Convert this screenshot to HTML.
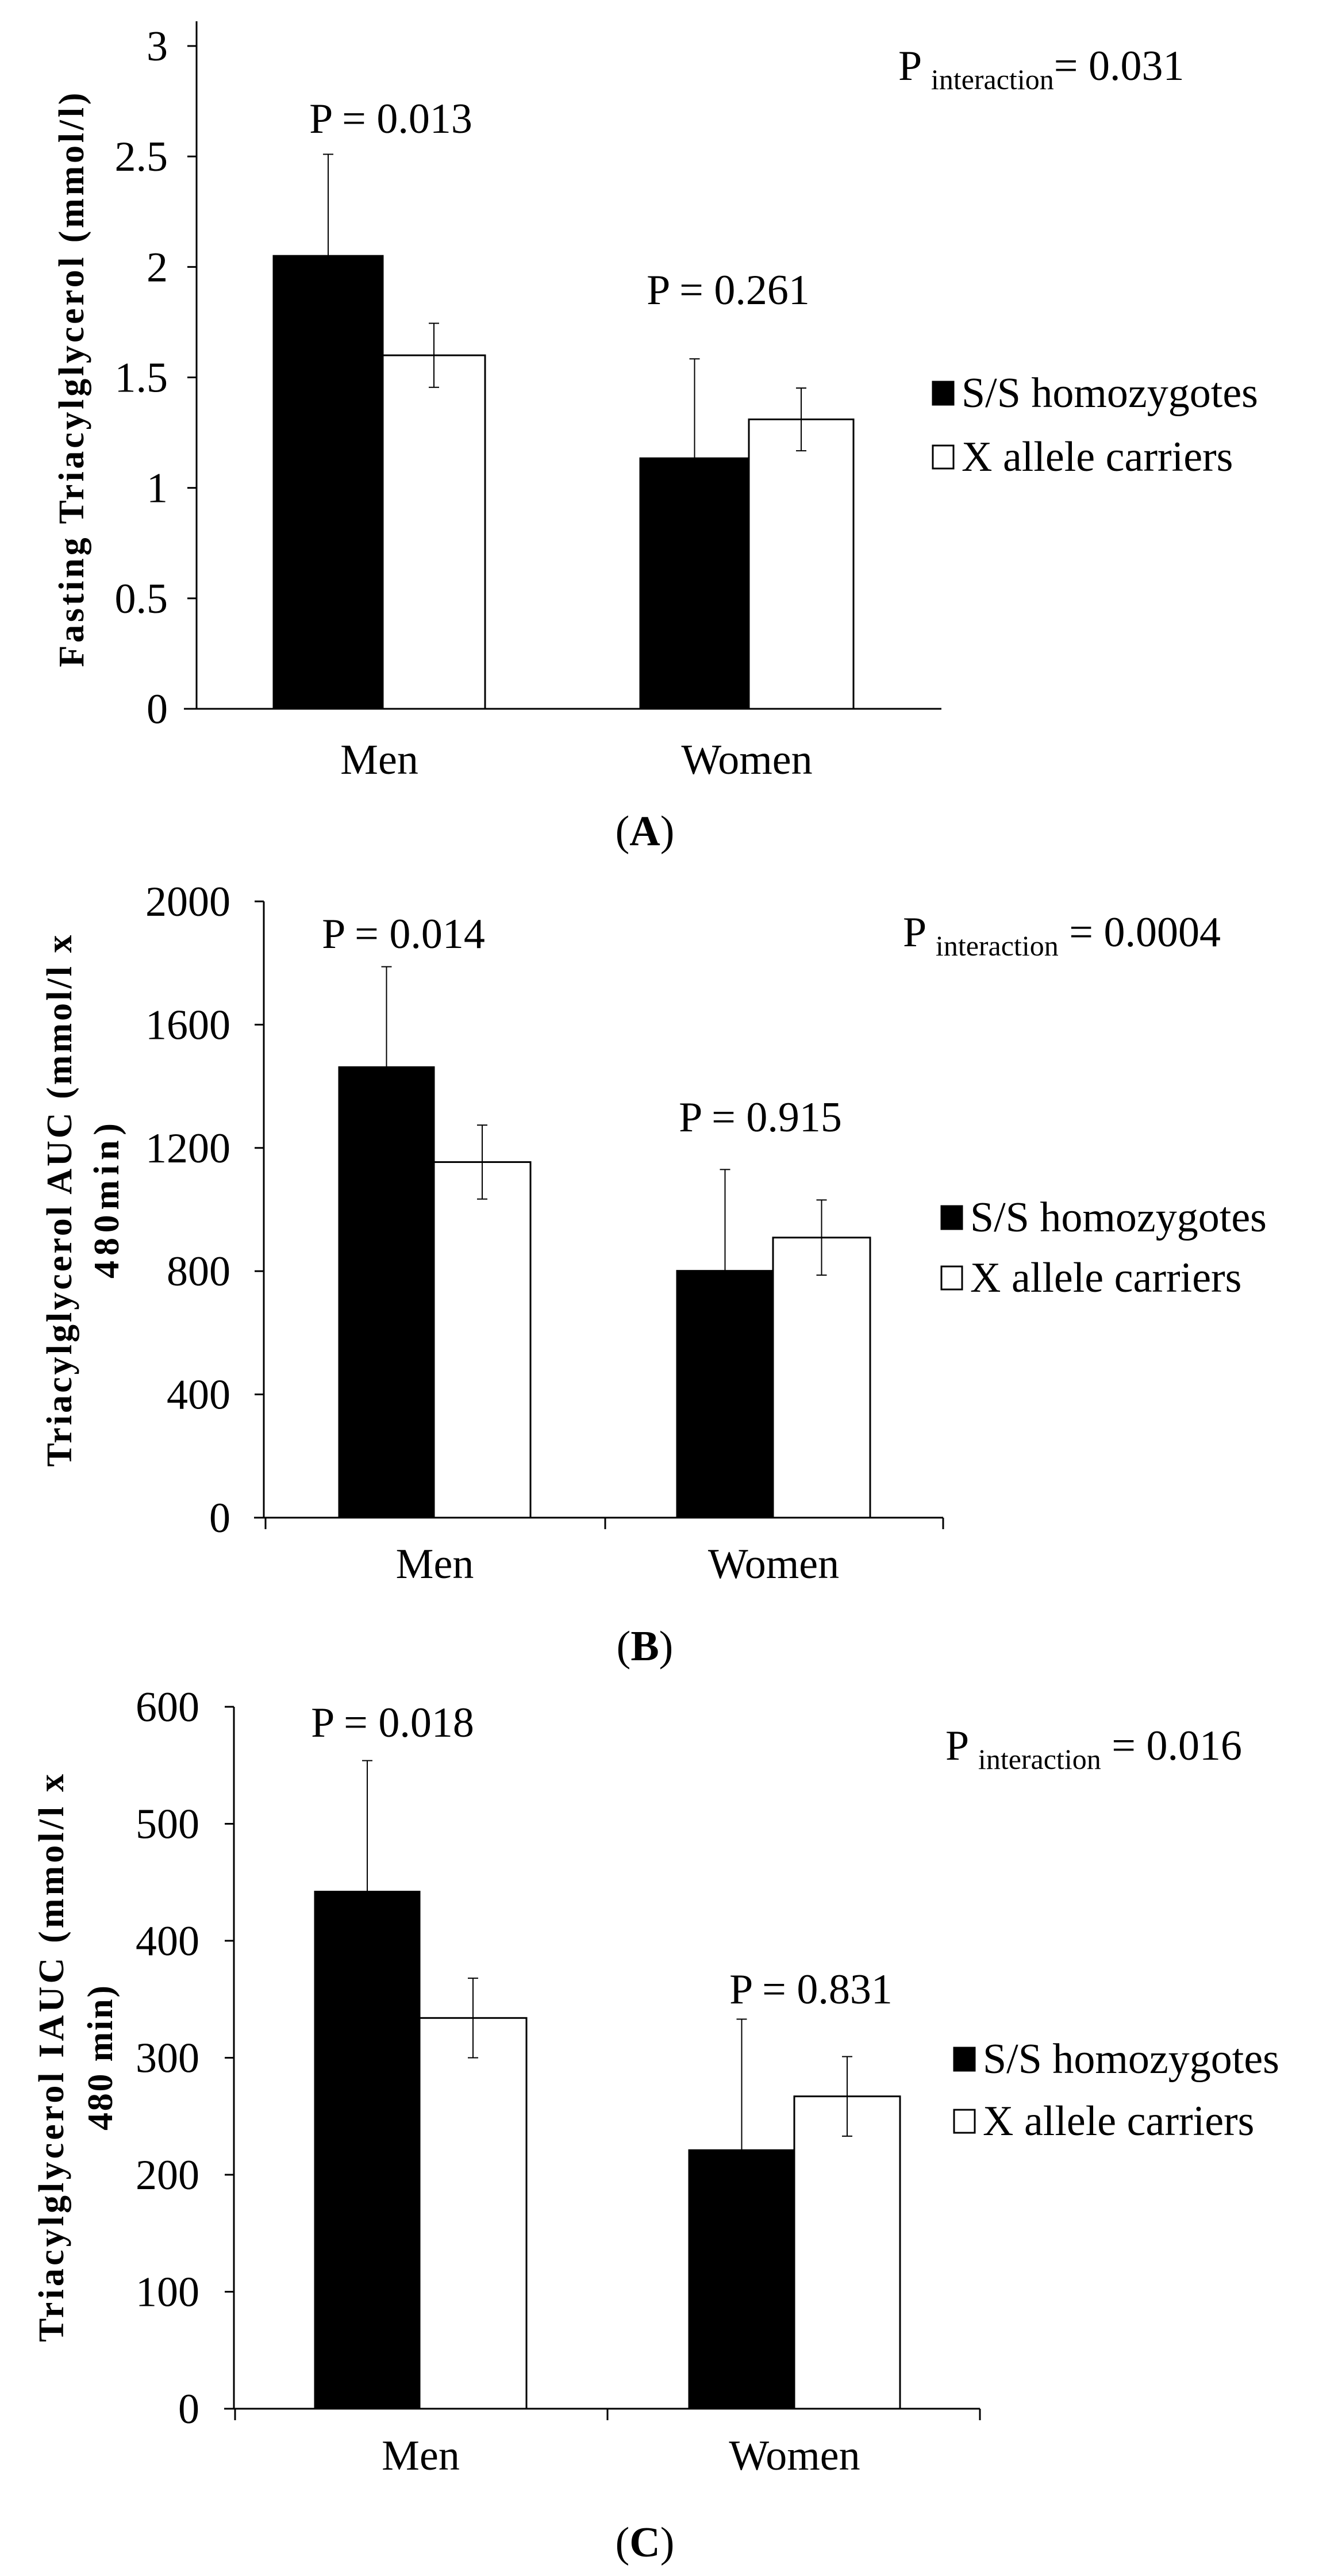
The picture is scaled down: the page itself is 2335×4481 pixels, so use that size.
<!DOCTYPE html>
<html><head><meta charset="utf-8"><style>
html,body{margin:0;padding:0;background:#fff;}
svg{display:block;}
text{font-family:"Liberation Serif",serif;fill:#000;}
</style></head><body>
<svg id="fig" width="2335" height="4481" viewBox="0 0 2335 4481" xmlns="http://www.w3.org/2000/svg"></svg>
<script>
// ---- data ----
const categories = ["Men", "Women"];
const seriesNames = ["S/S homozygotes", "X allele carriers"];
// Panel A: fasting triacylglycerol
const aSS = [2.05, 1.134];
const aX = [1.60, 1.31];
const aSSerr = [0.46, 0.45];
const aXerr = [0.145, 0.142];
const aTicks = ["0", "0.5", "1", "1.5", "2", "2.5", "3"];
const aPvals = ["P = 0.013", "P = 0.261"];
// Panel B: AUC
const bSS = [1462, 801];
const bX = [1154, 909];
const bSSerr = [326, 329];
const bXerr = [120, 122];
const bTicks = ["0", "400", "800", "1200", "1600", "2000"];
const bPvals = ["P = 0.014", "P = 0.915"];
// Panel C: IAUC
const cSS = [442, 221];
const cX = [334, 267];
const cSSerr = [112, 112];
const cXerr = [34, 34];
const cTicks = ["0", "100", "200", "300", "400", "500", "600"];
const cPvals = ["P = 0.018", "P = 0.831"];

const NS = "http://www.w3.org/2000/svg";
const svg = document.getElementById("fig");
function mk(tag, attrs, parent) {
  const e = document.createElementNS(NS, tag);
  for (const k in attrs) e.setAttribute(k, attrs[k]);
  (parent || svg).appendChild(e);
  return e;
}

function panel(cfg) {
  const g = mk("g", {});
  
  
  const maxV = parseFloat(cfg.ticks[cfg.ticks.length - 1]);
  const y = v => cfg.y0 - (v / maxV) * (cfg.y0 - cfg.yTop);
  // bars
  for (let i = 0; i < categories.length; i++) {
    const bx = cfg.barX[i];
    const vals = [cfg.ss[i], cfg.x[i]];
    const errs = [cfg.sserr[i], cfg.xerr[i]];
    for (let s = 0; s < 2; s++) {
      const x0 = bx[s], x1 = bx[s + 1];
      const r = mk("rect", {x: x0, y: y(vals[s]), width: x1 - x0, height: cfg.y0 - y(vals[s]),
        fill: s === 0 ? "#000" : "#fff", stroke: "#000", "stroke-width": 3}, g);
      
      
      const cx = (x0 + x1) / 2;
      const eg = mk("g", {stroke: "#000", "stroke-width": 2}, g);
      
      
      mk("line", {x1: cx, x2: cx, y1: y(vals[s] + errs[s]), y2: y(vals[s] - errs[s])}, eg);
      mk("line", {x1: cx - 9, x2: cx + 9, y1: y(vals[s] + errs[s]), y2: y(vals[s] + errs[s])}, eg);
      mk("line", {x1: cx - 9, x2: cx + 9, y1: y(vals[s] - errs[s]), y2: y(vals[s] - errs[s])}, eg);
    }
    const cl = mk("text", {x: (bx[0] + bx[2]) / 2, y: cfg.catY, "text-anchor": "middle", "font-size": 74}, g);
    cl.textContent = categories[i];
    
    
    const pv = mk("text", {x: cfg.pX[i], y: cfg.pY[i], "text-anchor": "middle", "font-size": 74}, g);
    pv.textContent = cfg.pvals[i];
    
    
  }
  // axes
  const ax = mk("g", {stroke: "#000", "stroke-width": 3}, g);
  
  
  mk("line", {x1: cfg.axX, x2: cfg.axX, y1: cfg.axTop, y2: cfg.y0}, ax);
  mk("line", {x1: cfg.xL, x2: cfg.xR, y1: cfg.y0, y2: cfg.y0}, ax);
  if (cfg.xTicks) cfg.xTicks.forEach(t => mk("line", {x1: t, x2: t, y1: cfg.y0, y2: cfg.y0 + 20}, ax));
  cfg.ticks.forEach(t => {
    const v = parseFloat(t);
    mk("line", {x1: cfg.axX - 16, x2: cfg.axX, y1: y(v), y2: y(v)}, ax);
    const tl = mk("text", {x: cfg.tickX, y: y(v) + 25, "text-anchor": "end", "font-size": 74}, g);
    tl.textContent = t;
    
    
  });
  // y label
  const yl = mk("text", {transform: `translate(${cfg.ylX},${cfg.ylY}) rotate(-90)`, "text-anchor": "middle",
    "font-size": 62, "font-weight": "bold"}, g);
  
  
  cfg.ylLines.forEach((ln, k) => {
    const ts = mk("tspan", {x: 0, dy: k === 0 ? 0 : cfg.ylDy, textLength: cfg.ylLen[k], lengthAdjust: "spacing"}, yl);
    ts.textContent = ln;
  });
  // P interaction
  const pi = mk("text", {x: cfg.piX, y: cfg.piY, "font-size": 74}, g);
  
  
  const t1 = mk("tspan", {}, pi); t1.textContent = "P ";
  const t2 = mk("tspan", {"font-size": 50, dy: 16}, pi); t2.textContent = "interaction";
  const t3 = mk("tspan", {dy: -16}, pi); t3.textContent = cfg.piText;
  // legend
  const lg = mk("g", {}, g);
  
  
  seriesNames.forEach((n, s) => {
    const ly = cfg.legY[s];
    const sq = mk("rect", {x: cfg.legX + 2, y: ly - 44, width: 36, height: 40, fill: s === 0 ? "#000" : "#fff", stroke: "#000", "stroke-width": 3}, lg);
    
    
    const lt = mk("text", {x: cfg.legX + 52, y: ly, "font-size": 74}, lg);
    lt.textContent = n;
    
    
  });
  // panel letter
  const pl = mk("text", {x: 1122, y: cfg.letterY, "text-anchor": "middle", "font-size": 74}, g);
  
  
  const a = mk("tspan", {}, pl); a.textContent = "(";
  const b = mk("tspan", {"font-weight": "bold"}, pl); b.textContent = cfg.letter;
  const c = mk("tspan", {}, pl); c.textContent = ")";
}

panel({name: "panel-a", ss: aSS, x: aX, sserr: aSSerr, xerr: aXerr, ticks: aTicks, pvals: aPvals,
  y0: 1233, yTop: 80, axX: 342, axTop: 37, xL: 320, xR: 1638, xTicks: null, tickX: 292,
  barX: [[476, 666, 844], [1114, 1303, 1485]], catY: 1346, pX: [680, 1267], pY: [231, 529],
  ylX: 145, ylY: 661, ylLines: ["Fasting  Triacylglycerol  (mmol/l)"], ylLen: [999], ylDy: 0,
  piX: 1563, piY: 139, piText: "= 0.031", legX: 1621, legY: [708, 819], letter: "A", letterY: 1470});

panel({name: "panel-b", ss: bSS, x: bX, sserr: bSSerr, xerr: bXerr, ticks: bTicks, pvals: bPvals,
  y0: 2640, yTop: 1568, axX: 459, axTop: 1568, xL: 442, xR: 1641, xTicks: [462, 1053, 1641], tickX: 401,
  barX: [[590, 755, 923], [1178, 1345, 1514]], catY: 2745, pX: [702, 1323], pY: [1649, 1968],
  ylX: 124, ylY: 2089, ylLines: ["Triacylglycerol AUC (mmol/l  x", "480min)"], ylLen: [925, 270], ylDy: 82,
  piX: 1571, piY: 1646, piText: " = 0.0004", legX: 1636, legY: [2142, 2247], letter: "B", letterY: 2888});

panel({name: "panel-c", ss: cSS, x: cX, sserr: cSSerr, xerr: cXerr, ticks: cTicks, pvals: cPvals,
  y0: 4190, yTop: 2969, axX: 407, axTop: 2969, xL: 390, xR: 1705, xTicks: [409, 1057, 1705], tickX: 347,
  barX: [[548, 730, 916], [1199, 1382, 1566]], catY: 4296, pX: [683, 1411], pY: [3021, 3485],
  ylX: 110, ylY: 3580, ylLines: ["Triacylglycerol  IAUC (mmol/l  x", "480 min)"], ylLen: [988, 252], ylDy: 85,
  piX: 1645, piY: 3061, piText: " = 0.016", legX: 1658, legY: [3606, 3714], letter: "C", letterY: 4447});
</script>
</body></html>
